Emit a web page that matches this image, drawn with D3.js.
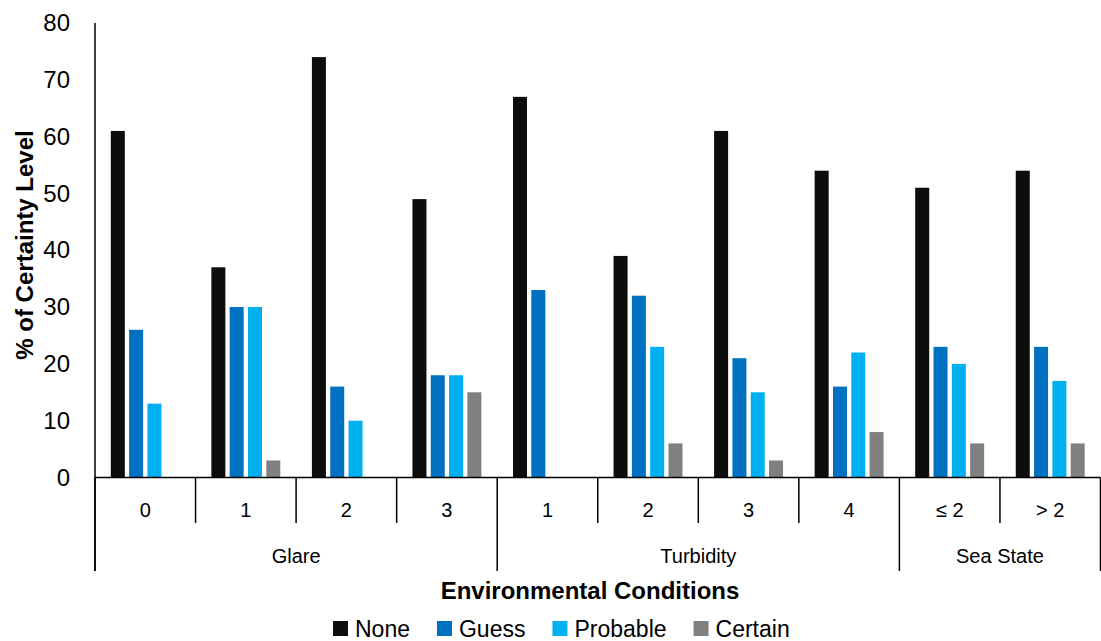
<!DOCTYPE html>
<html>
<head>
<meta charset="utf-8">
<script src="https://cdn.jsdelivr.net/npm/d3@7"></script>
<style>
  html, body { margin: 0; padding: 0; background: #fff; }
  svg { display: block; font-family: "Liberation Sans", Arial, sans-serif; }
</style>
</head>
<body>
<svg id="chart" width="1101" height="641"></svg>
<script>
// ---- data ----
const categories = ["0", "1", "2", "3", "1", "2", "3", "4", "≤ 2", "> 2"];
const categoryGroups = ["Glare", "Glare", "Glare", "Glare", "Turbidity", "Turbidity", "Turbidity", "Turbidity", "Sea State", "Sea State"];
const groups = ["Glare", "Turbidity", "Sea State"];
const seriesNames = ["None", "Guess", "Probable", "Certain"];
const noneValues = [61, 37, 74, 49, 67, 39, 61, 54, 51, 54];
const guessValues = [26, 30, 16, 18, 33, 32, 21, 16, 23, 23];
const probableValues = [13, 30, 10, 18, 0, 23, 15, 22, 20, 17];
const certainValues = [0, 3, 0, 15, 0, 6, 3, 8, 6, 6];
const yTicks = [0, 10, 20, 30, 40, 50, 60, 70, 80];
const colors = ["#0d0d0d", "#0070c0", "#00b0f0", "#808080"];

const seriesValues = [noneValues, guessValues, probableValues, certainValues];

// ---- layout ----
const svg = d3.select("#chart");
const plotLeft = 95, plotRight = 1100.5, plotTop = 23, plotBase = 477.5;
const shortTickEnd = 523, longTickEnd = 571;

const idx = d3.range(categories.length);
const x0 = d3.scaleBand().domain(idx).range([plotLeft, plotRight]).paddingInner(0).paddingOuter(0);
const x1 = d3.scaleBand().domain(seriesNames).range([0, x0.bandwidth()]).paddingInner(0.235).paddingOuter(0.863);
const y = d3.scaleLinear().domain([0, 80]).range([plotBase, plotTop]);
const color = d3.scaleOrdinal().domain(seriesNames).range(colors);

// ---- bars ----
const rows = idx.map(i => ({ i, values: seriesNames.map((s, k) => ({ s, v: seriesValues[k][i] })) }));
const g = svg.append("g");
g.selectAll("g.cat").data(rows).join("g")
  .attr("class", "cat")
  .attr("transform", d => `translate(${x0(d.i)},0)`)
  .selectAll("rect").data(d => d.values.filter(e => e.v > 0)).join("rect")
  .attr("x", e => x1(e.s))
  .attr("width", x1.bandwidth())
  .attr("y", e => y(e.v))
  .attr("height", e => y(0) - y(e.v))
  .attr("fill", e => color(e.s));

// ---- y axis ----
const yAxis = d3.axisLeft(y).tickValues(yTicks).tickSize(0).tickPadding(25);
const ya = svg.append("g").attr("transform", `translate(${plotLeft},0)`).call(yAxis);
ya.select(".domain").remove();
ya.selectAll("text").attr("font-size", 24).attr("fill", "#000").attr("font-family", "Liberation Sans, Arial, sans-serif");

svg.append("line").attr("x1", plotLeft).attr("x2", plotLeft).attr("y1", plotTop).attr("y2", longTickEnd)
  .attr("stroke", "#000").attr("stroke-width", 1.5);

// ---- x axis baseline ----
svg.append("line").attr("x1", plotLeft).attr("x2", plotRight).attr("y1", plotBase).attr("y2", plotBase)
  .attr("stroke", "#000").attr("stroke-width", 1.5);

// category separators
const boundaries = d3.range(categories.length + 1).map(i => i < categories.length ? x0(i) : plotRight);
const isGroupEdge = i => i === 0 || i === categories.length || categoryGroups[i] !== categoryGroups[i - 1];
svg.append("g").selectAll("line").data(d3.range(categories.length + 1)).join("line")
  .attr("x1", i => boundaries[i]).attr("x2", i => boundaries[i])
  .attr("y1", plotBase).attr("y2", i => isGroupEdge(i) ? longTickEnd : shortTickEnd)
  .attr("stroke", "#000").attr("stroke-width", 1.5);

// category labels
svg.append("g").selectAll("text").data(idx).join("text")
  .attr("x", i => x0(i) + x0.bandwidth() / 2)
  .attr("y", 516.5)
  .attr("text-anchor", "middle")
  .attr("font-size", 20)
  .attr("fill", "#000")
  .text(i => categories[i]);

// group labels
const groupSpans = groups.map(name => {
  const members = idx.filter(i => categoryGroups[i] === name);
  const a = x0(members[0]);
  const b = x0(members[members.length - 1]) + x0.bandwidth();
  return { name, cx: (a + b) / 2 };
});
svg.append("g").selectAll("text").data(groupSpans).join("text")
  .attr("x", d => d.cx)
  .attr("y", 563)
  .attr("text-anchor", "middle")
  .attr("font-size", 20)
  .attr("fill", "#000")
  .text(d => d.name);

// axis titles
svg.append("text")
  .attr("x", 590).attr("y", 599)
  .attr("text-anchor", "middle")
  .attr("font-size", 24).attr("font-weight", "bold").attr("fill", "#000")
  .text("Environmental Conditions");

svg.append("text")
  .attr("transform", "translate(33,245) rotate(-90)")
  .attr("text-anchor", "middle")
  .attr("font-size", 24).attr("font-weight", "bold").attr("fill", "#000")
  .text("% of Certainty Level");

// ---- legend ----
const legend = svg.append("g");
let lx = 333;
seriesNames.forEach(s => {
  legend.append("rect").attr("x", lx).attr("y", 621).attr("width", 15).attr("height", 15).attr("fill", color(s));
  const t = legend.append("text").attr("x", lx + 22).attr("y", 636.5)
    .attr("font-size", 23).attr("fill", "#000").text(s);
  lx = lx + 22 + t.node().getComputedTextLength() + 27;
});
</script>
</body>
</html>
